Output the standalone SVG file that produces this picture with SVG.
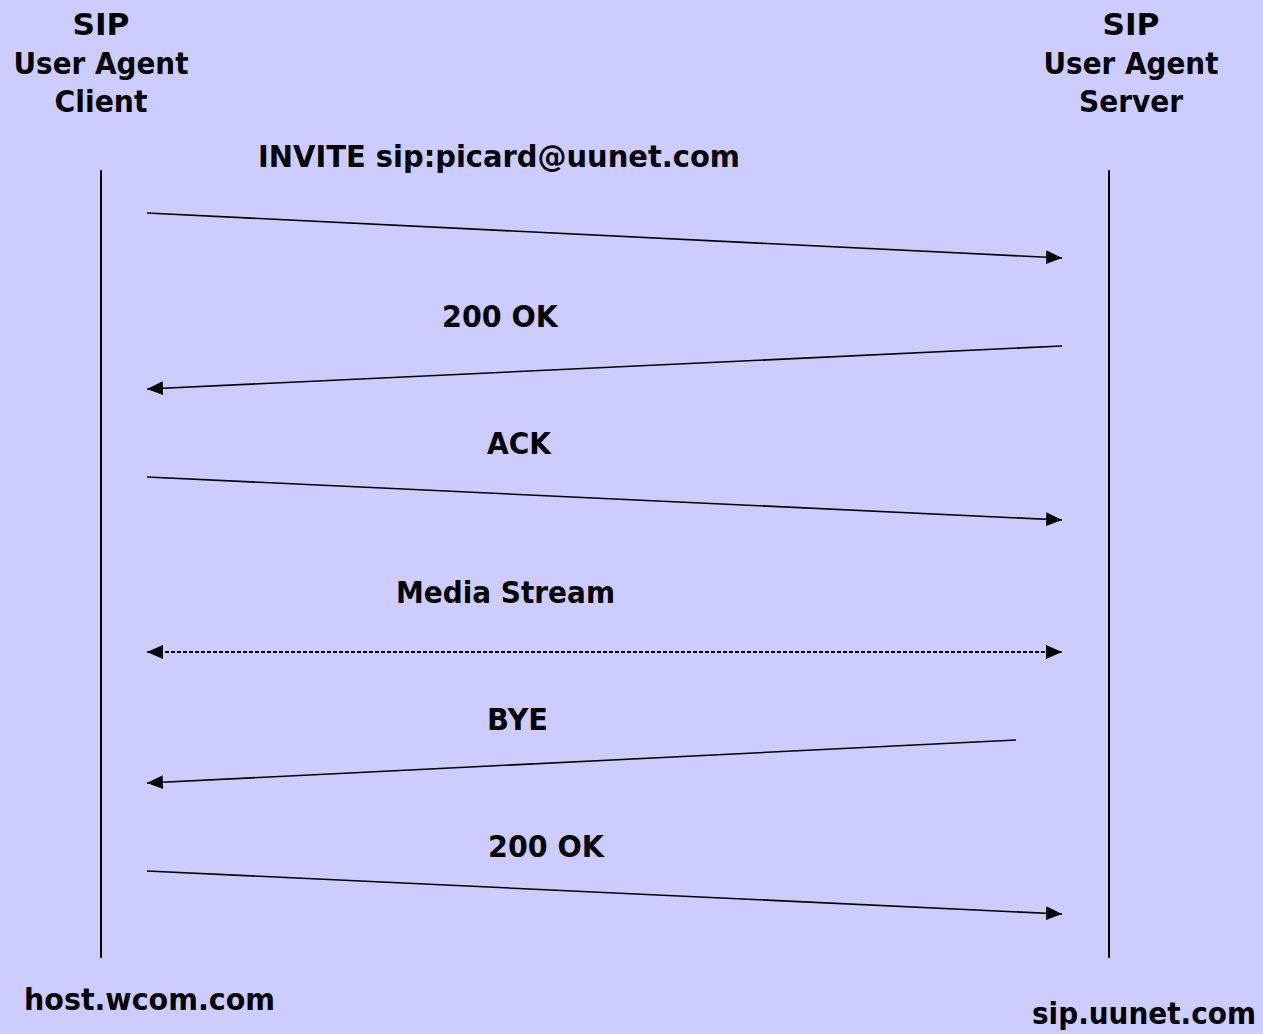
<svg xmlns="http://www.w3.org/2000/svg" width="1263" height="1034" viewBox="0 0 1263 1034">
  <style>
    text { font-family: "DejaVu Sans", Verdana, sans-serif; font-weight: bold; font-size: 30px; fill: #000; }
    .life { stroke: #000; stroke-width: 2; }
    .msg { stroke: #000; stroke-width: 1.6; fill: none; }
    .dotted { stroke: #000; stroke-width: 2; stroke-dasharray: 4 2; fill: none; }
  </style>
  <defs>
    <marker id="head" viewBox="0 0 16 14" refX="16" refY="7" markerWidth="16" markerHeight="14" markerUnits="userSpaceOnUse" orient="auto-start-reverse">
      <path d="M0,0 L16,7 L0,14 Z" fill="#000"/>
    </marker>
  </defs>
  <rect width="1263" height="1034" fill="#CCCCFF"/>

  <!-- user agent client -->
  <g id="client">
    <text x="101" y="35" text-anchor="middle" textLength="57" lengthAdjust="spacingAndGlyphs">SIP</text>
    <text x="101" y="74" text-anchor="middle" textLength="175" lengthAdjust="spacingAndGlyphs">User Agent</text>
    <text x="101" y="112" text-anchor="middle" textLength="93" lengthAdjust="spacingAndGlyphs">Client</text>
    <line class="life" x1="101" y1="170" x2="101" y2="958"/>
    <text x="24" y="1010" textLength="251" lengthAdjust="spacingAndGlyphs">host.wcom.com</text>
  </g>

  <!-- user agent server -->
  <g id="server">
    <text x="1131" y="35" text-anchor="middle" textLength="57" lengthAdjust="spacingAndGlyphs">SIP</text>
    <text x="1131" y="74" text-anchor="middle" textLength="175" lengthAdjust="spacingAndGlyphs">User Agent</text>
    <text x="1131" y="112" text-anchor="middle" textLength="104" lengthAdjust="spacingAndGlyphs">Server</text>
    <line class="life" x1="1109" y1="170" x2="1109" y2="958"/>
    <text x="1032" y="1024" textLength="224" lengthAdjust="spacingAndGlyphs">sip.uunet.com</text>
  </g>

  <!-- messages -->
  <g id="connectors">
    <text x="258" y="167" textLength="482" lengthAdjust="spacingAndGlyphs">INVITE sip:picard@uunet.com</text>
    <line class="msg" x1="147" y1="213" x2="1062" y2="258" marker-end="url(#head)"/>

    <text x="442" y="327" textLength="116" lengthAdjust="spacingAndGlyphs">200 OK</text>
    <line class="msg" x1="1062" y1="346" x2="147" y2="389" marker-end="url(#head)"/>

    <text x="487" y="454" textLength="64" lengthAdjust="spacingAndGlyphs">ACK</text>
    <line class="msg" x1="147" y1="477" x2="1062" y2="520" marker-end="url(#head)"/>

    <text x="396" y="603" textLength="219" lengthAdjust="spacingAndGlyphs">Media Stream</text>
    <line class="dotted" x1="147" y1="652" x2="1062" y2="652" marker-start="url(#head)" marker-end="url(#head)"/>

    <text x="487" y="730" textLength="61" lengthAdjust="spacingAndGlyphs">BYE</text>
    <line class="msg" x1="1016" y1="740" x2="147" y2="783" marker-end="url(#head)"/>

    <text x="488" y="857" textLength="116" lengthAdjust="spacingAndGlyphs">200 OK</text>
    <line class="msg" x1="147" y1="871" x2="1062" y2="914" marker-end="url(#head)"/>
  </g>
</svg>
